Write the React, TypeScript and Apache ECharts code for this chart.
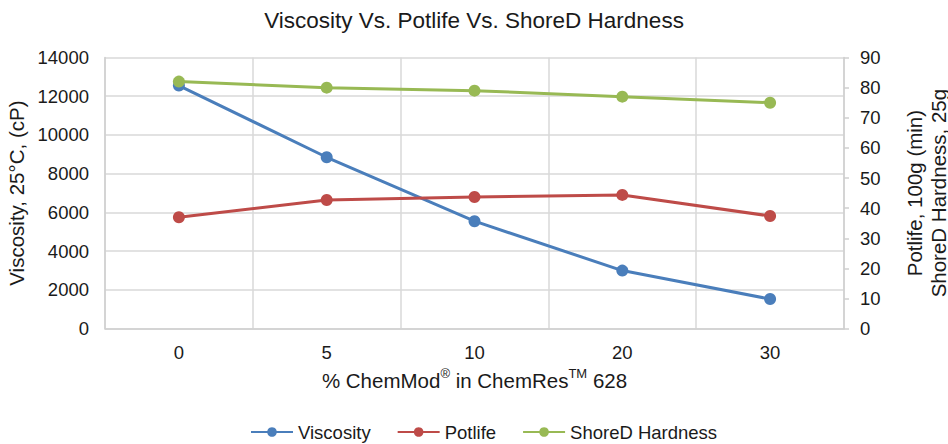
import React, { useEffect, useRef } from "react";
import * as echarts from "echarts";

const categories = ["0", "5", "10", "20", "30"];
const viscosity = [12550, 8850, 5550, 3000, 1530];
const potlife = [37, 42.7, 43.7, 44.4, 37.4];
const shoreD = [82, 80, 79, 77, 75];
const leftTicks = { min: 0, max: 14000, interval: 2000 };
const rightTicks = { min: 0, max: 90, interval: 10 };

const FONT = "'Liberation Sans', Arial, sans-serif";
const TEXT = "#1a1a1a";

export default function App() {
  const ref = useRef<HTMLDivElement>(null);
  useEffect(() => {
    if (!ref.current) return;
    const chart = echarts.init(ref.current, undefined, { renderer: "svg" });
    const mk = (name: string, data: number[], color: string, yAxisIndex: number) => ({
      name,
      type: "line",
      data,
      yAxisIndex,
      symbol: "circle",
      symbolSize: 12,
      lineStyle: { width: 3, color },
      itemStyle: { color },
      z: 3,
    });
    chart.setOption({
      animation: false,
      textStyle: { fontFamily: FONT },
      title: {
        text: "Viscosity Vs. Potlife Vs. ShoreD Hardness",
        left: "center",
        top: 9,
        padding: 0,
        textStyle: { fontSize: 22.5, fontWeight: "normal", color: TEXT, fontFamily: FONT },
      },
      legend: {
        left: 250,
        top: 422,
        padding: 0,
        itemWidth: 42,
        itemHeight: 12,
        itemGap: 26,
        textStyle: { fontSize: 18.5, lineHeight: 20, color: TEXT, fontFamily: FONT },
        data: ["Viscosity", "Potlife", "ShoreD Hardness"],
      },
      grid: { left: 105, right: 104, top: 57.5, bottom: 115.3, containLabel: false, outerBoundsMode: "none" },
      xAxis: {
        type: "category",
        data: categories,
        boundaryGap: true,
        axisLine: { lineStyle: { color: "#cfcfcf", width: 1.5 } },
        axisTick: { show: false },
        splitLine: { show: true, lineStyle: { color: "#d9d9d9", width: 1.5 } },
        axisLabel: { fontSize: 18.5, color: TEXT, margin: 14, fontFamily: FONT },
        name: "{a|% ChemMod}{s|®}{a| in ChemRes}{s|TM}{a| 628}",
        nameLocation: "middle",
        nameGap: 38,
        nameTextStyle: {
          rich: {
            a: { fontSize: 20.5, color: TEXT, fontFamily: FONT, verticalAlign: "bottom", lineHeight: 24 },
            s: { fontSize: 13, color: TEXT, fontFamily: FONT, verticalAlign: "top", lineHeight: 24, padding: [0, 0, 8, 0] },
          },
        },
      },
      yAxis: [
        {
          type: "value",
          min: leftTicks.min,
          max: leftTicks.max,
          interval: leftTicks.interval,
          position: "left",
          axisLine: { show: true, lineStyle: { color: "#cfcfcf", width: 1.5 } },
          axisTick: { show: false },
          splitLine: { show: true, lineStyle: { color: "#d9d9d9", width: 1.5 } },
          axisLabel: { fontSize: 18.5, color: TEXT, margin: 16, fontFamily: FONT, formatter: (v: number) => String(v) },
          name: "Viscosity, 25°C, (cP)",
          nameLocation: "middle",
          nameRotate: 90,
          nameGap: 73,
          nameTextStyle: { fontSize: 20.5, color: TEXT, fontFamily: FONT },
        },
        {
          type: "value",
          min: rightTicks.min,
          max: rightTicks.max,
          interval: rightTicks.interval,
          position: "right",
          axisLine: { show: true, lineStyle: { color: "#cfcfcf", width: 1.5 } },
          axisTick: { show: true, length: 5, inside: false, lineStyle: { color: "#cfcfcf", width: 1.5 } },
          splitLine: { show: false },
          axisLabel: { fontSize: 18.5, color: TEXT, margin: 16, fontFamily: FONT, formatter: (v: number) => String(v) },
          name: "Potlife, 100g (min)\nShoreD Hardness, 25g",
          nameLocation: "middle",
          nameRotate: 90,
          nameGap: 58,
          nameTextStyle: { fontSize: 20.5, color: TEXT, fontFamily: FONT, lineHeight: 24 },
        },
      ],
      series: [
        mk("Viscosity", viscosity, "#4a7ebb", 0),
        mk("Potlife", potlife, "#be4b48", 1),
        mk("ShoreD Hardness", shoreD, "#98b954", 1),
      ],
    });
    return () => chart.dispose();
  }, []);
  return <div ref={ref} style={{ width: 948, height: 444, position: "absolute", left: 0, top: 0, background: "#fff" }} />;
}
